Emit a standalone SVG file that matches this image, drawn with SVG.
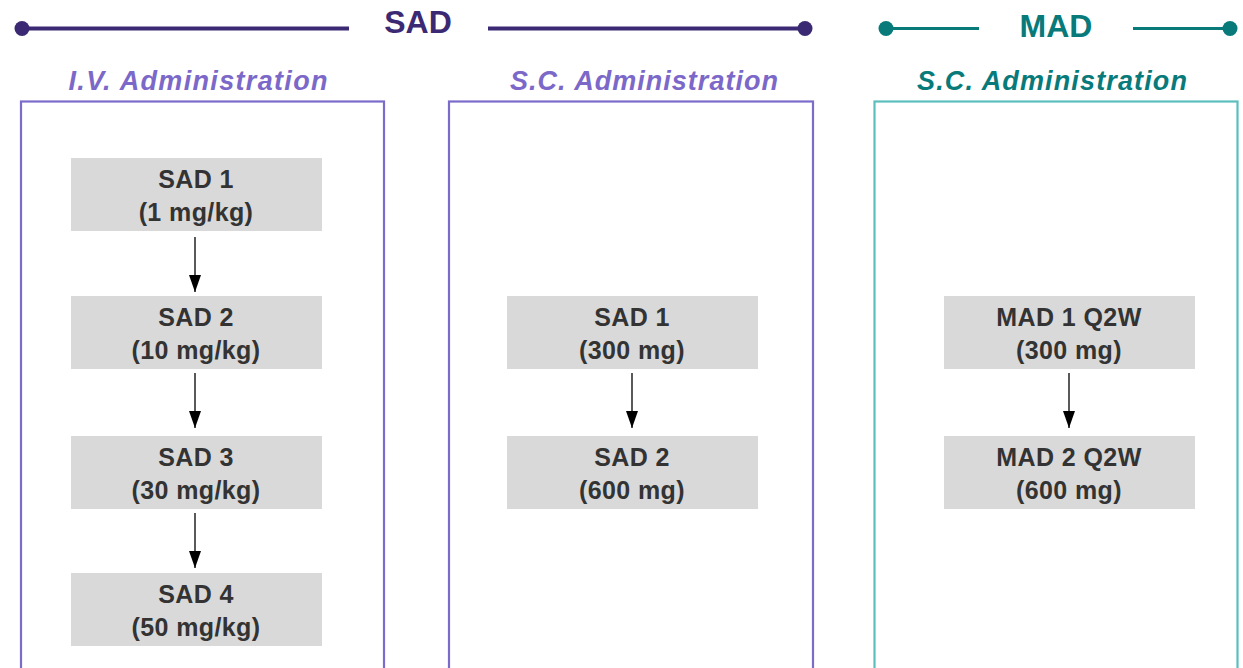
<svg xmlns="http://www.w3.org/2000/svg" width="1243" height="668" viewBox="0 0 1243 668">
<defs>
<style>
.hdr{font-family:"Liberation Sans",Arial,sans-serif;font-weight:bold;font-size:32px;text-anchor:middle}
.sub{font-family:"Liberation Sans",Arial,sans-serif;font-weight:bold;font-style:italic;font-size:27px;text-anchor:middle}
.node rect{fill:#d9d9d9}
.node text{font-family:"Liberation Sans",Arial,sans-serif;font-weight:bold;font-size:25px;fill:#333333;text-anchor:middle;letter-spacing:0.4px}
.conn line{stroke:#000;stroke-width:1.3}
</style>
<marker id="ah" markerUnits="userSpaceOnUse" markerWidth="17" markerHeight="12" refX="17" refY="6" orient="auto" viewBox="0 0 17 12">
<path d="M0,0 L17,6 L0,12 Z" fill="#000"/>
</marker>
</defs>
<rect width="1243" height="668" fill="#ffffff"/>
<g id="sad-header">
<line x1="22" y1="28.5" x2="349" y2="28.5" stroke="#3b2a73" stroke-width="4"/>
<circle cx="22" cy="28.5" r="7.5" fill="#3b2a73"/>
<line x1="488" y1="28.5" x2="805" y2="28.5" stroke="#3b2a73" stroke-width="4"/>
<circle cx="805" cy="28.5" r="7.5" fill="#3b2a73"/>
<text class="hdr" x="418" y="33" fill="#3b2a73">SAD</text>
</g>
<g id="mad-header">
<line x1="886" y1="28.5" x2="979" y2="28.5" stroke="#087a7a" stroke-width="3"/>
<circle cx="886" cy="28.5" r="7.5" fill="#087a7a"/>
<line x1="1133" y1="28.5" x2="1230" y2="28.5" stroke="#087a7a" stroke-width="3"/>
<circle cx="1230" cy="28.5" r="7.5" fill="#087a7a"/>
<text class="hdr" x="1056" y="37" fill="#087a7a" font-size="33">MAD</text>
</g>
<g id="col-iv">
<text class="sub" x="198" y="90" fill="#7b68c8" textLength="259" lengthAdjust="spacing">I.V. Administration</text>
<rect x="21" y="101.5" width="363" height="580" fill="none" stroke="#7b6bcb" stroke-width="2.2"/>
</g>
<g id="col-sc">
<text class="sub" x="644" y="90" fill="#7b68c8" textLength="268" lengthAdjust="spacing">S.C. Administration</text>
<rect x="449" y="101.5" width="364" height="580" fill="none" stroke="#7b6bcb" stroke-width="2.2"/>
</g>
<g id="col-mad">
<text class="sub" x="1052" y="90" fill="#087a7a" textLength="270" lengthAdjust="spacing">S.C. Administration</text>
<rect x="874.5" y="101.5" width="363" height="580" fill="none" stroke="#5cbfbe" stroke-width="2.2"/>
</g>
<g id="iv-sad1" class="node"><rect x="71" y="158" width="251" height="73"/><text x="196" y="188">SAD 1</text><text x="196" y="221">(1 mg/kg)</text></g>
<g id="iv-sad2" class="node"><rect x="71" y="296" width="251" height="73"/><text x="196" y="326">SAD 2</text><text x="196" y="359">(10 mg/kg)</text></g>
<g id="iv-sad3" class="node"><rect x="71" y="436" width="251" height="73"/><text x="196" y="466">SAD 3</text><text x="196" y="499">(30 mg/kg)</text></g>
<g id="iv-sad4" class="node"><rect x="71" y="573" width="251" height="73"/><text x="196" y="603">SAD 4</text><text x="196" y="636">(50 mg/kg)</text></g>
<g id="sc-sad1" class="node"><rect x="507" y="296" width="251" height="73"/><text x="632" y="326">SAD 1</text><text x="632" y="359">(300 mg)</text></g>
<g id="sc-sad2" class="node"><rect x="507" y="436" width="251" height="73"/><text x="632" y="466">SAD 2</text><text x="632" y="499">(600 mg)</text></g>
<g id="mad1" class="node"><rect x="944" y="296" width="251" height="73"/><text x="1069" y="326">MAD 1 Q2W</text><text x="1069" y="359">(300 mg)</text></g>
<g id="mad2" class="node"><rect x="944" y="436" width="251" height="73"/><text x="1069" y="466">MAD 2 Q2W</text><text x="1069" y="499">(600 mg)</text></g>
<g id="connectors" class="conn">
<line x1="195" y1="237" x2="195" y2="292" marker-end="url(#ah)"/>
<line x1="195" y1="373" x2="195" y2="428" marker-end="url(#ah)"/>
<line x1="195" y1="513" x2="195" y2="568" marker-end="url(#ah)"/>
<line x1="632" y1="373" x2="632" y2="428" marker-end="url(#ah)"/>
<line x1="1069" y1="373" x2="1069" y2="428" marker-end="url(#ah)"/>
</g>
</svg>
